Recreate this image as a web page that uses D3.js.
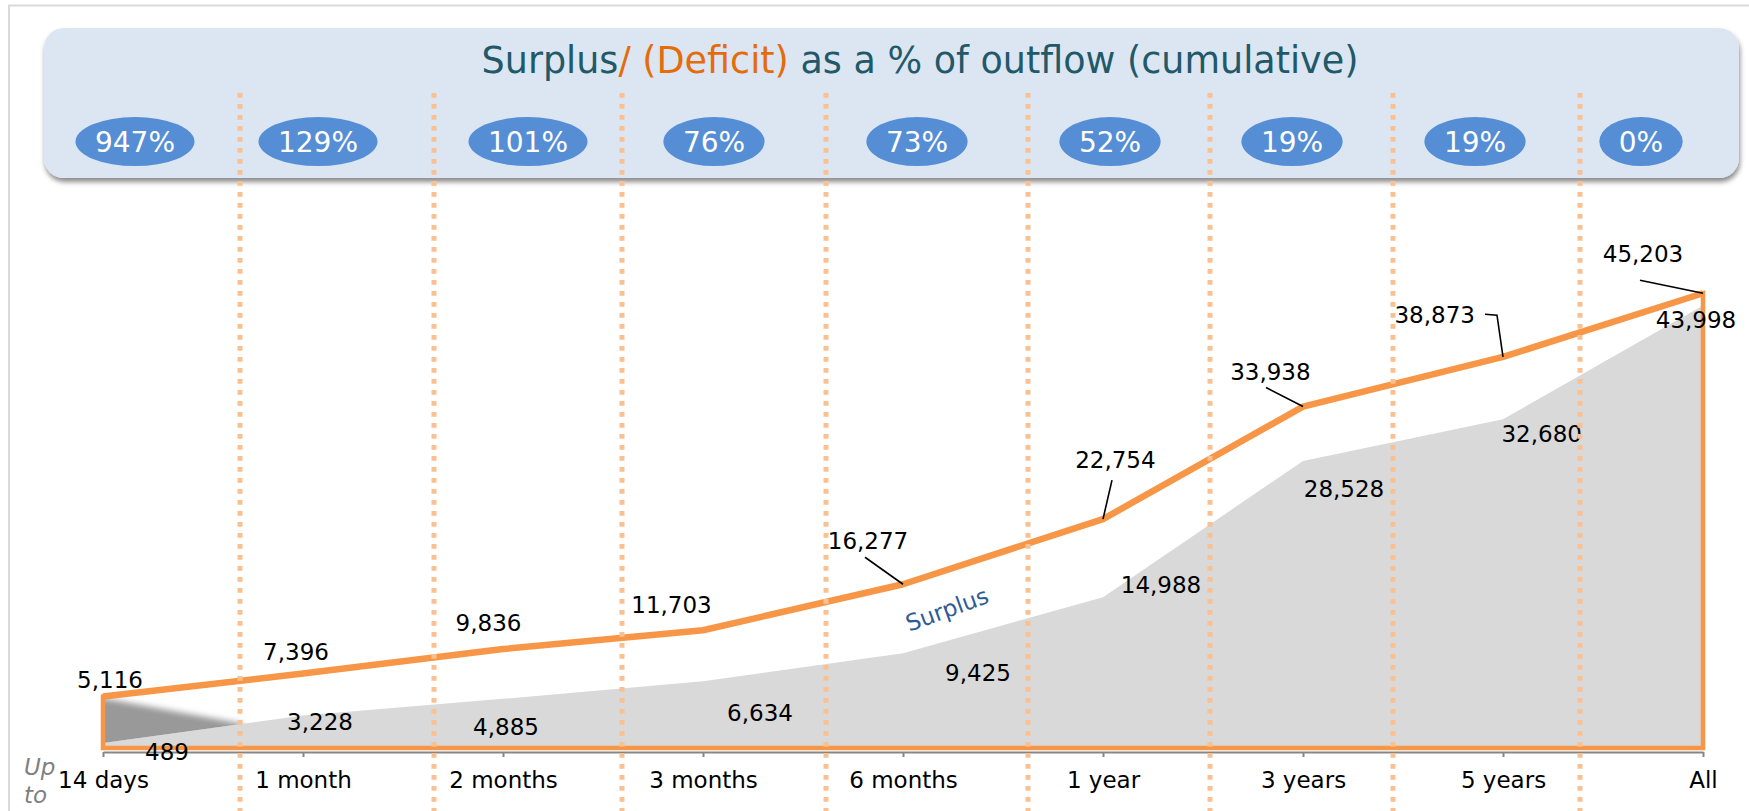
<!DOCTYPE html>
<html>
<head>
<meta charset="utf-8">
<script src="https://cdn.jsdelivr.net/npm/d3@7"></script>
<style>
  body { margin: 0; background: #fff; }
  svg { display: block; font-family: "DejaVu Sans", sans-serif; }
</style>
</head>
<body>
<svg id="chart" width="1749" height="811"></svg>
<script>
const periods = ["14 days", "1 month", "2 months", "3 months", "6 months", "1 year", "3 years", "5 years", "All"];
const inflowCum = [5116, 7396, 9836, 11703, 16277, 22754, 33938, 38873, 45203];
const outflowCum = [489, 3228, 4885, 6634, 9425, 14988, 28528, 32680, 43998];
const surplusPct = ["947%", "129%", "101%", "76%", "73%", "52%", "19%", "19%", "0%"];
// header bubbles and dotted dividers, in category units (0 = first period)
const bubbleAt = [0.16, 1.075, 2.125, 3.055, 4.07, 5.035, 5.945, 6.86, 7.69];
const dividerAt = [0.685, 1.655, 2.595, 3.615, 4.625, 5.535, 6.45, 7.385];

const W = 1749, H = 811;
const svg = d3.select("#chart");
const fmt = d3.format(",");

const x = d3.scalePoint().domain(periods).range([103, 1703]);
const xi = d3.scaleLinear().domain([0, periods.length - 1]).range([103, 1703]);
const y = d3.scaleLinear().domain([0, 50000]).range([748, 245]);

const defs = svg.append("defs");
const shadow = defs.append("filter").attr("id", "boxShadow")
  .attr("x", "-5%").attr("y", "-20%").attr("width", "110%").attr("height", "150%");
shadow.append("feDropShadow").attr("dx", 1).attr("dy", 4).attr("stdDeviation", 2.5)
  .attr("flood-color", "#000").attr("flood-opacity", 0.45);
const blur = defs.append("filter").attr("id", "soft")
  .attr("x", "-50%").attr("y", "-50%").attr("width", "200%").attr("height", "200%");
blur.append("feGaussianBlur").attr("stdDeviation", 3);

// region between the two series, used to keep the dark wedge's lower edge crisp
const gapPts = inflowCum.map((d, i) => [x(periods[i]), y(d) - 12])
  .concat(outflowCum.map((d, i) => [x(periods[i]), y(d)]).reverse());
defs.append("clipPath").attr("id", "gapClip")
  .append("path").attr("d", d3.line()(gapPts) + "Z");

// outer frame
svg.append("rect")
  .attr("x", 9).attr("y", 5.5).attr("width", W).attr("height", H)
  .attr("fill", "none").attr("stroke", "#d9d9d9").attr("stroke-width", 2);

// header panel
svg.append("rect")
  .attr("x", 44).attr("y", 28).attr("width", 1695).attr("height", 150).attr("rx", 20)
  .attr("fill", "#dce6f2").attr("filter", "url(#boxShadow)");

const title = svg.append("text")
  .attr("x", 920).attr("y", 73)
  .attr("text-anchor", "middle")
  .style("font-size", "36.5px")
  .attr("fill", "#215968");
title.append("tspan").text("Surplus");
title.append("tspan").attr("fill", "#e46c0a").text("/ (Deficit)");
title.append("tspan").text(" as a % of outflow (cumulative)");

// gray outflow area
svg.append("path")
  .datum(outflowCum)
  .attr("fill", "#d9d9d9")
  .attr("d", d3.area()
    .x((d, i) => x(periods[i]))
    .y0(y(0))
    .y1(d => y(d)));

// dark wedge at the start
const tipAt = 0.7;
const tipVal = outflowCum[0] + tipAt * (outflowCum[1] - outflowCum[0]);
svg.append("g").attr("clip-path", "url(#gapClip)")
  .append("path")
  .attr("fill", "#999")
  .attr("filter", "url(#soft)")
  .attr("d", d3.line()([
    [xi(-0.1), y(inflowCum[0]) - 2],
    [xi(-0.1), y(0) + 20],
    [xi(tipAt), y(tipVal) + 14],
    [xi(tipAt), y(tipVal)]
  ]) + "Z");

// orange outline of inflow area
const outline = [[x(periods[0]), y(0)]]
  .concat(inflowCum.map((d, i) => [x(periods[i]), y(d)]))
  .concat([[x(periods[periods.length - 1]), y(0)]]);
svg.append("path")
  .attr("d", d3.line()(outline) + "Z")
  .attr("fill", "none")
  .attr("stroke", "#f79646")
  .attr("stroke-width", 4.5);

svg.append("path")
  .datum(inflowCum)
  .attr("fill", "none")
  .attr("stroke", "#f79646")
  .attr("stroke-width", 6.5)
  .attr("stroke-linejoin", "round")
  .attr("d", d3.line().x((d, i) => x(periods[i])).y(d => y(d)));

// x axis
const axis = svg.append("g")
  .attr("transform", `translate(0, 752)`)
  .call(d3.axisBottom(x).tickSize(5).tickSizeOuter(0));
axis.select(".domain").attr("stroke", "#868686").attr("stroke-width", 2);
axis.selectAll(".tick line").attr("stroke", "#868686").attr("stroke-width", 2);
axis.selectAll(".tick text")
  .attr("y", 36).attr("dy", null)
  .attr("fill", "#000")
  .style("font-size", "23px")
  .style("font-family", "DejaVu Sans");

svg.append("text").attr("x", 24).attr("y", 775)
  .attr("fill", "#7f7f7f").style("font-style", "italic").style("font-size", "23px").text("Up");
svg.append("text").attr("x", 24).attr("y", 803)
  .attr("fill", "#7f7f7f").style("font-style", "italic").style("font-size", "23px").text("to");

// value labels (offsets of the label centre from its point)
const inflowOff = [[7, -16.5], [-7, -22], [-14.5, -26.5], [-31.5, -25.7], [-35, -44],
  [12.4, -59.4], [-32.6, -35], [-68.3, -42.7], [-60, -40]];
const outflowOff = [[64, 8.7], [17, 6], [3, 28], [57, 31], [75, 19],
  [58, -12.6], [41, 27.7], [38.7, 14], [-7, 14]];
const leaders = {
  4: [[-38, -27], [0, 0]],
  5: [[9, -39], [0, 0]],
  6: [[-37, -19], [0, 0]],
  7: [[-18, -42.7], [-6, -41.7], [0, 0]],
  8: [[-63, -13], [0, 0]]
};

const labelSize = 23;
function addLabels(values, offs) {
  svg.append("g").selectAll("text")
    .data(values)
    .join("text")
    .attr("x", (d, i) => x(periods[i]) + offs[i][0])
    .attr("y", (d, i) => y(d) + offs[i][1] + labelSize * 0.364)
    .attr("text-anchor", "middle")
    .style("font-size", labelSize + "px")
    .attr("fill", "#000")
    .text(d => fmt(d));
}
addLabels(inflowCum, inflowOff);
addLabels(outflowCum, outflowOff);

Object.entries(leaders).forEach(([k, pts]) => {
  const i = +k;
  const px = x(periods[i]), py = y(inflowCum[i]);
  svg.append("path")
    .attr("d", d3.line()(pts.map(p => [px + p[0], py + p[1]])))
    .attr("fill", "none")
    .attr("stroke", "#000")
    .attr("stroke-width", 1.6);
});

// "Surplus" tag between the two series
const tagAt = 4.22;
const lerp = (arr, t) => arr[Math.floor(t)] + (t - Math.floor(t)) * (arr[Math.floor(t) + 1] - arr[Math.floor(t)]);
const tagX = xi(tagAt), tagY = (y(lerp(inflowCum, tagAt)) + y(lerp(outflowCum, tagAt))) / 2 + 4;
svg.append("text")
  .attr("transform", `translate(${tagX}, ${tagY}) rotate(-20)`)
  .attr("text-anchor", "middle")
  .attr("dy", "0.35em")
  .style("font-size", "23px")
  .attr("fill", "#2e5b94")
  .text("Surplus");

// header bubbles
const bubbles = svg.append("g").selectAll("g")
  .data(surplusPct)
  .join("g")
  .attr("transform", (d, i) => `translate(${xi(bubbleAt[i])}, 141.6)`);
bubbles.append("ellipse").attr("ry", 24.5).attr("fill", "#558ed5");
bubbles.append("text")
  .attr("text-anchor", "middle")
  .attr("y", 28 * 0.364)
  .style("font-size", "28px")
  .attr("fill", "#fff")
  .text(d => d);
bubbles.each(function() {
  const g = d3.select(this);
  const w = g.select("text").node().getComputedTextLength();
  g.select("ellipse").attr("rx", w / 2 + 19.5);
});

// dotted dividers
svg.append("g").selectAll("line")
  .data(dividerAt)
  .join("line")
  .attr("x1", d => xi(d)).attr("x2", d => xi(d))
  .attr("y1", 93).attr("y2", H)
  .attr("stroke", "#fac090")
  .attr("stroke-width", 5)
  .attr("stroke-dasharray", "4.7,6.3");
</script>
</body>
</html>
